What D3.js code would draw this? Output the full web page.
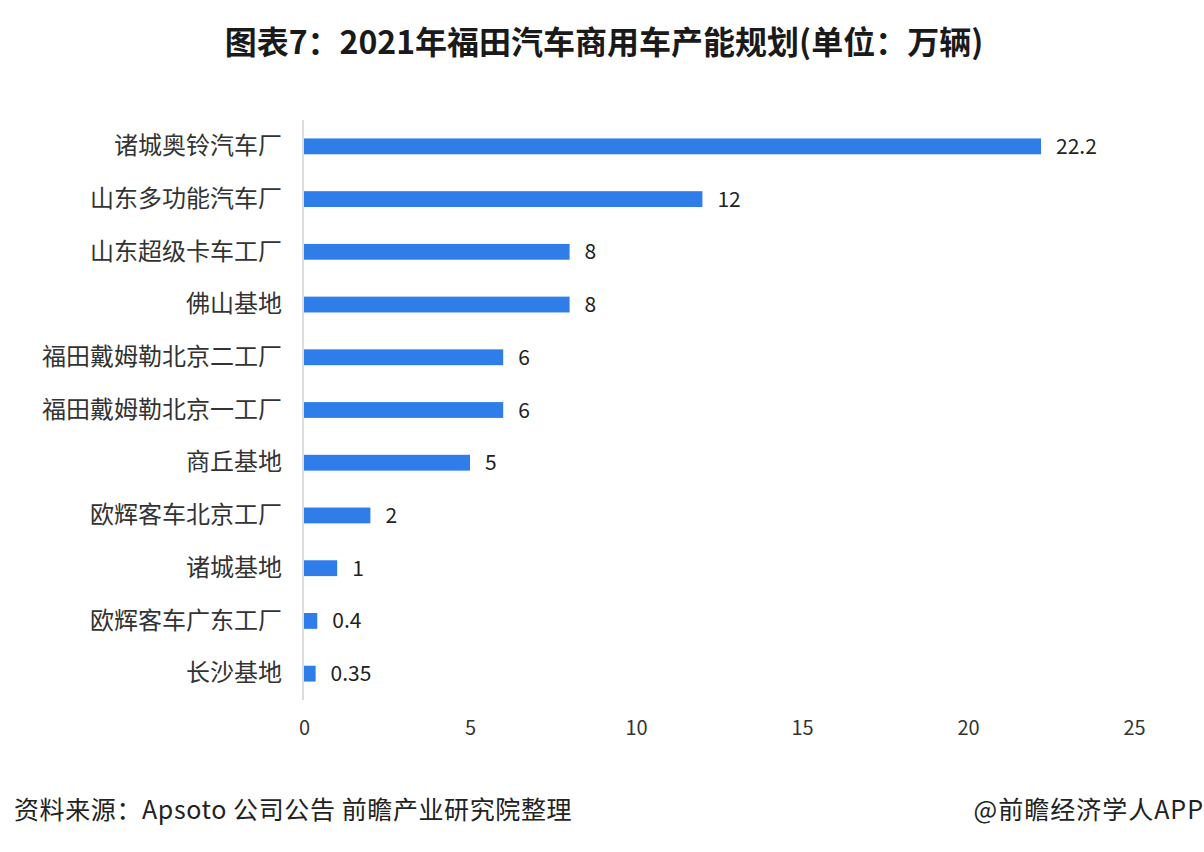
<!DOCTYPE html>
<html>
<head>
<meta charset="utf-8">
<script src="https://cdn.jsdelivr.net/npm/d3@7"></script>
<style>
  body { margin: 0; background: #fff; }
  svg { display: block; font-family: "Noto Sans CJK SC", "Noto Sans", sans-serif; }
</style>
</head>
<body>
<svg id="chart" width="1204" height="852"></svg>
<script>
// data
const categories = ["诸城奥铃汽车厂", "山东多功能汽车厂", "山东超级卡车工厂", "佛山基地",
  "福田戴姆勒北京二工厂", "福田戴姆勒北京一工厂", "商丘基地", "欧辉客车北京工厂",
  "诸城基地", "欧辉客车广东工厂", "长沙基地"];
const values = [22.2, 12, 8, 8, 6, 6, 5, 2, 1, 0.4, 0.35];
const xTicks = [0, 5, 10, 15, 20, 25];

const title = "图表7：2021年福田汽车商用车产能规划(单位：万辆)";
const source = "资料来源：Apsoto 公司公告 前瞻产业研究院整理";
const credit = "@前瞻经济学人APP";

const svg = d3.select("#chart");
const width = +svg.attr("width");

const x = d3.scaleLinear()
    .domain([0, 25])
    .range([304, 1134]);

const y = d3.scaleBand()
    .domain(categories)
    .range([120, 700])
    .paddingInner(0.7)
    .paddingOuter(0.35);

// title
svg.append("text")
    .attr("x", width / 2 + 2)
    .attr("y", 54)
    .attr("text-anchor", "middle")
    .attr("font-size", 32)
    .attr("font-weight", "bold")
    .attr("fill", "#1a1a1a")
    .text(title);

// bars
svg.selectAll(".bar")
    .data(values)
    .enter()
    .append("rect")
    .attr("class", "bar")
    .attr("x", x(0))
    .attr("y", (d, i) => y(categories[i]))
    .attr("width", d => x(d) - x(0))
    .attr("height", y.bandwidth())
    .attr("fill", "#2e7de8");

// value labels
svg.selectAll(".val")
    .data(values)
    .enter()
    .append("text")
    .attr("class", "val")
    .attr("x", d => x(d) + 15)
    .attr("y", (d, i) => y(categories[i]) + y.bandwidth() / 2)
    .attr("dy", "0.36em")
    .attr("font-size", 21)
    .attr("fill", "#222")
    .text(d => d);

// category axis
const yAxis = svg.append("g")
    .attr("transform", `translate(${x(0) - 1},0)`)
    .call(d3.axisLeft(y).tickSize(0).tickPadding(21));
yAxis.select(".domain").attr("stroke", "#bbb").attr("d", "M0,120V700");
yAxis.selectAll("text")
    .attr("font-size", 24)
    .attr("fill", "#333")
    .attr("font-family", "Noto Sans CJK SC");

// value axis
const xAxis = svg.append("g")
    .attr("transform", "translate(0,700)")
    .call(d3.axisBottom(x).tickValues(xTicks).tickSize(0).tickPadding(21));
xAxis.select(".domain").remove();
xAxis.selectAll("text")
    .attr("font-size", 20)
    .attr("fill", "#333")
    .attr("font-family", "Noto Sans CJK SC");

// footer
svg.append("text")
    .attr("x", 14)
    .attr("y", 819)
    .attr("font-size", 25)
    .attr("letter-spacing", 0.6)
    .attr("fill", "#222")
    .text(source);

svg.append("text")
    .attr("x", 1204)
    .attr("y", 819)
    .attr("text-anchor", "end")
    .attr("font-size", 25)
    .attr("letter-spacing", 1)
    .attr("fill", "#222")
    .text(credit);
</script>
</body>
</html>
